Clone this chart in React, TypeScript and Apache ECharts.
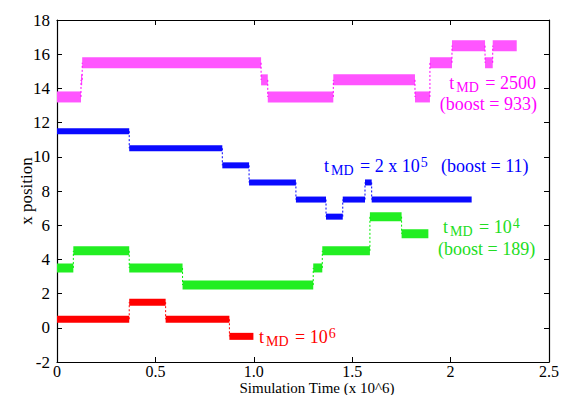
import React, { useEffect, useRef } from "react";
import * as echarts from "echarts";

// x positions (Simulation time, x10^6) where each plateau starts, last entry = end of trajectory
const redTimes = [0, 0.367, 0.552, 0.876, 0.998];
const redLevels = [0.5, 1.5, 0.5, -0.5];

const greenTimes = [0, 0.083, 0.367, 0.638, 1.302, 1.348, 1.59, 1.751, 1.887];
const greenLevels = [3.5, 4.5, 3.5, 2.5, 3.5, 4.5, 6.5, 5.5];

const blueTimes = [0, 0.367, 0.84, 0.976, 1.214, 1.367, 1.452, 1.565, 1.599, 2.107];
const blueLevels = [11.5, 10.5, 9.5, 8.5, 7.5, 6.5, 7.5, 8.5, 7.5];

const magentaTimes = [0, 0.122, 0.128, 1.037, 1.071, 1.404, 1.819, 1.895, 2.007, 2.175, 2.214, 2.336];
const magentaLevels = [13.5, 14.5, 15.5, 14.5, 13.5, 14.5, 13.5, 15.5, 16.5, 15.5, 16.5];

const xTickLabels: Record<string, string> = {
  "0": "0",
  "0.5": "0.5",
  "1": "1.0",
  "1.5": "1.5",
  "2": "2",
  "2.5": "2.5",
};

const FONT = "Liberation Serif";

function segments(times: number[], levels: number[]) {
  const out: number[][] = [];
  for (let i = 0; i < levels.length; i++) {
    out.push([times[i], times[i + 1], levels[i], i > 0 ? levels[i - 1] : NaN]);
  }
  return out;
}

function stepSeries(name: string, times: number[], levels: number[], color: string, band: number, fill: string) {
  return {
    type: "custom",
    name,
    xAxisIndex: 0,
    yAxisIndex: 0,
    clip: true,
    data: segments(times, levels),
    encode: { x: [0, 1], y: [2, 3] },
    renderItem: (params: any, api: any) => {
      const x0 = api.value(0);
      const x1 = api.value(1);
      const y = api.value(2);
      const py = api.value(3);
      const a = api.coord([x0, y]);
      const b = api.coord([x1, y]);
      const children: any[] = [
        {
          type: "rect",
          shape: { x: a[0], y: a[1] - band, width: Math.max(b[0] - a[0], 1), height: band * 2 },
          style: { fill },
        },
      ];
      if (!isNaN(py)) {
        const p = api.coord([x0, py]);
        children.push({
          type: "line",
          shape: { x1: a[0], y1: p[1], x2: a[0], y2: a[1] },
          style: { stroke: color, lineWidth: 1, lineDash: [2, 2] },
        });
      }
      return { type: "group", children };
    },
  };
}

function richFor(color: string) {
  return {
    t: { fontSize: 18, fontFamily: FONT, fill: color, verticalAlign: "middle", lineHeight: 22 },
    sub: { fontSize: 14, fontFamily: FONT, fill: color, verticalAlign: "bottom", lineHeight: 22, padding: [0, 2, 0, 2] },
    sup: { fontSize: 14, fontFamily: FONT, fill: color, verticalAlign: "top", lineHeight: 22, padding: [0, 0, 0, 1] },
  };
}

function label(text: string, x: number, y: number, color: string, align: string = "left") {
  return {
    type: "text",
    x,
    y,
    silent: true,
    style: {
      text,
      fill: color,
      fontSize: 18,
      fontFamily: FONT,
      lineHeight: 18,
      align,
      verticalAlign: "middle",
      rich: richFor(color),
    },
  };
}

export default function App() {
  const ref = useRef<HTMLDivElement>(null);
  useEffect(() => {
    if (!ref.current) return;
    const chart = echarts.init(ref.current, null, { renderer: "svg" });
    const axisLine = { show: true, onZero: false, lineStyle: { color: "#000", width: 1.2 } };
    const tickStyle = { inside: true, length: 5, lineStyle: { color: "#000", width: 1 } };
    chart.setOption({
      animation: false,
      backgroundColor: "#fff",
      grid: { left: 57, right: 17, top: 20, bottom: 33 },
      xAxis: [
        {
          type: "value",
          min: 0,
          max: 2.5,
          interval: 0.5,
          axisLine,
          axisTick: tickStyle,
          splitLine: { show: false },
          axisLabel: {
            margin: 2,
            fontSize: 16,
            lineHeight: 14,
            fontFamily: FONT,
            color: "#000",
            formatter: (v: number) => xTickLabels[String(v)] ?? String(v),
          },
        },
        {
          type: "value",
          position: "top",
          min: 0,
          max: 2.5,
          interval: 0.5,
          axisLine,
          axisTick: tickStyle,
          splitLine: { show: false },
          axisLabel: { show: false },
        },
      ],
      yAxis: [
        {
          type: "value",
          min: -2,
          max: 18,
          interval: 2,
          axisLine,
          axisTick: tickStyle,
          splitLine: { show: false },
          axisLabel: { margin: 7, fontSize: 17, fontFamily: FONT, color: "#000" },
        },
        {
          type: "value",
          position: "right",
          min: -2,
          max: 18,
          interval: 2,
          axisLine,
          axisTick: tickStyle,
          splitLine: { show: false },
          axisLabel: { show: false },
        },
      ],
      series: [
        stepSeries("red", redTimes, redLevels, "#ff0000", 3.5, "#ff0000"),
        stepSeries("green", greenTimes, greenLevels, "#00ee00", 4.5, "#22ee22"),
        stepSeries("blue", blueTimes, blueLevels, "#0000ff", 3, "#0a0aff"),
        stepSeries("magenta", magentaTimes, magentaLevels, "#ff00ff", 5.5, "#ff55ff"),
      ],
      graphic: [
        label("{t|t}{sub|MD}{t| = 10}{sup|6}", 259, 337, "#ff0000"),
        label("{t|t}{sub|MD}{t| = 2500}", 536, 83, "#ff00ff", "right"),
        label("(boost = 933)", 537, 104, "#ff00ff", "right"),
        label("{t|t}{sub|MD}{t| = 2 x 10}{sup|5}", 324, 166, "#0000ff"),
        label("(boost = 11)", 441, 166, "#0000ff"),
        label("{t|t}{sub|MD}{t| = 10}{sup|4}", 443, 227, "#22dd22"),
        label("(boost = 189)", 438, 249, "#22dd22"),
        {
          type: "text",
          x: 317,
          y: 387.5,
          silent: true,
          style: {
            text: "Simulation Time (x 10^6)",
            fill: "#000",
            fontSize: 15,
            lineHeight: 14,
            fontFamily: FONT,
            align: "center",
            verticalAlign: "middle",
          },
        },
        {
          type: "text",
          x: 26,
          y: 191,
          rotation: Math.PI / 2,
          silent: true,
          style: {
            text: "x position",
            fill: "#000",
            fontSize: 17,
            fontFamily: FONT,
            align: "center",
            verticalAlign: "middle",
          },
        },
      ],
    });
    return () => chart.dispose();
  }, []);
  return (
    <div
      ref={ref}
      style={{ position: "fixed", left: 0, top: 0, width: 566, height: 395, background: "#fff" }}
    />
  );
}
